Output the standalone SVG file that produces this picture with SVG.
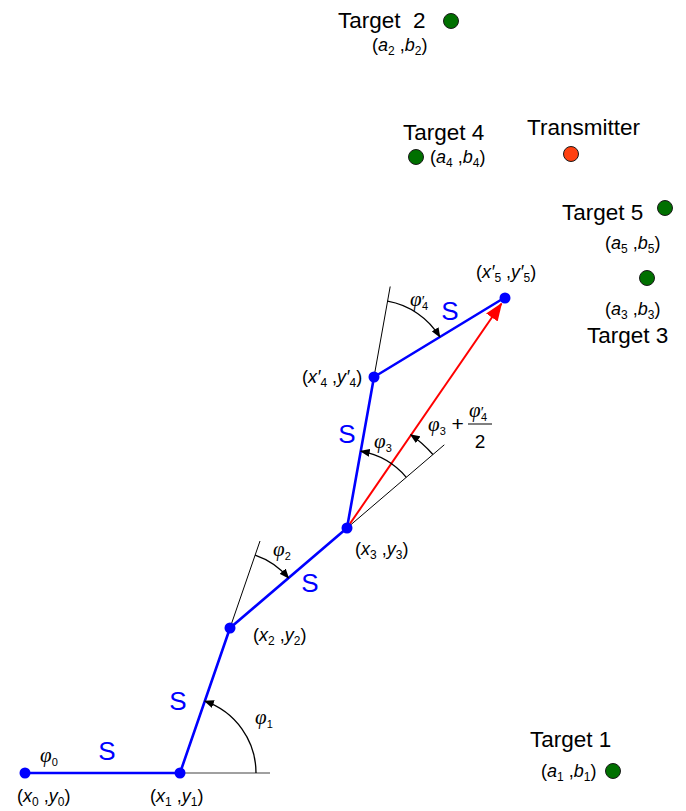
<svg xmlns="http://www.w3.org/2000/svg" width="686" height="811" viewBox="0 0 686 811">
<style>
.tg{font-family:"Liberation Sans",Arial,sans-serif;font-size:22.5px;fill:#000}
.lb{font-family:"Liberation Sans",Arial,sans-serif;font-size:18px;fill:#000}
.it{font-style:italic}
.sb{font-size:12px}
.ph{font-family:"Liberation Serif","DejaVu Serif",serif;font-style:italic;font-size:21px;fill:#000}
.ps{font-family:"Liberation Sans",Arial,sans-serif;font-style:normal;font-size:11px}
.S{font-family:"Liberation Sans",Arial,sans-serif;font-size:26px;fill:#0000ff;text-anchor:middle}
.seg{stroke:#0000ff;stroke-width:2.6;fill:none;stroke-linecap:round}
.thin{stroke:#000;stroke-width:1;fill:none}
.arc{stroke:#000;stroke-width:1.3;fill:none;marker-end:url(#ah)}
.bd{fill:#0000ff}
.gd{fill:#007000;stroke:#1a1a1a;stroke-width:1}
</style>
<defs>
<marker id="ah" markerWidth="10" markerHeight="8" refX="9" refY="4" orient="auto" markerUnits="userSpaceOnUse">
<path d="M0,0 L10,4 L0,8 Z" fill="#000"/>
</marker>
<marker id="rah" markerWidth="18" markerHeight="14" refX="17" refY="7" orient="auto" markerUnits="userSpaceOnUse">
<path d="M0,0 L18,7 L0,14 Z" fill="#ff0000"/>
</marker>
</defs>

<g id="connectors">
<line x1="180" y1="773" x2="270" y2="773" stroke="#808080" stroke-width="1.5"/>
<line class="thin" x1="230" y1="628" x2="260" y2="541"/>
<line class="thin" x1="347" y1="528" x2="444.3" y2="444.8"/>
<line class="thin" x1="374" y1="377" x2="390.2" y2="286.5"/>
<line class="seg" x1="25" y1="773" x2="180" y2="773"/>
<line class="seg" x1="180" y1="773" x2="230" y2="628"/>
<line class="seg" x1="230" y1="628" x2="347" y2="528"/>
<line class="seg" x1="347" y1="528" x2="374" y2="377"/>
<line class="seg" x1="374" y1="377" x2="504" y2="298"/>
<line x1="347" y1="528" x2="501.5" y2="303.5" stroke="#ff0000" stroke-width="2" marker-end="url(#rah)"/>
<path class="arc" d="M256,773 A76,76 0 0 0 204.8,701.2"/>
<path class="arc" d="M255.1,555.2 A77,77 0 0 1 288.5,578"/>
<path class="arc" d="M406.3,477.3 A78,78 0 0 0 360.7,451.2"/>
<path class="arc" d="M432.9,454.5 A113,113 0 0 0 410.7,434.7"/>
<path class="arc" d="M387.6,301.2 A77,77 0 0 1 439.8,337"/>
</g>

<g id="node-p0">
<circle class="bd" cx="25" cy="773" r="5.5"/>
<text class="lb" x="17" y="802">(<tspan class="it">x</tspan><tspan class="sb" dy="4">0</tspan><tspan dy="-4"> ,</tspan><tspan class="it">y</tspan><tspan class="sb" dy="4">0</tspan><tspan dy="-4">)</tspan></text>
<text class="ph" x="40" y="762">φ<tspan class="ps" dy="4">0</tspan></text>
</g>
<g id="node-p1">
<circle class="bd" cx="180" cy="773" r="5.5"/>
<text class="lb" x="150" y="802">(<tspan class="it">x</tspan><tspan class="sb" dy="4">1</tspan><tspan dy="-4"> ,</tspan><tspan class="it">y</tspan><tspan class="sb" dy="4">1</tspan><tspan dy="-4">)</tspan></text>
<text class="ph" x="255" y="724">φ<tspan class="ps" dy="4">1</tspan></text>
</g>
<g id="node-p2">
<circle class="bd" cx="230" cy="628" r="5.5"/>
<text class="lb" x="253" y="641">(<tspan class="it">x</tspan><tspan class="sb" dy="4">2</tspan><tspan dy="-4"> ,</tspan><tspan class="it">y</tspan><tspan class="sb" dy="4">2</tspan><tspan dy="-4">)</tspan></text>
<text class="ph" x="273" y="556">φ<tspan class="ps" dy="4">2</tspan></text>
</g>
<g id="node-p3">
<circle class="bd" cx="347" cy="528" r="5.5"/>
<text class="lb" x="355" y="555">(<tspan class="it">x</tspan><tspan class="sb" dy="4">3</tspan><tspan dy="-4"> ,</tspan><tspan class="it">y</tspan><tspan class="sb" dy="4">3</tspan><tspan dy="-4">)</tspan></text>
<text class="ph" x="374" y="448">φ<tspan class="ps" dy="4">3</tspan></text>
<text class="ph" x="428" y="431">φ<tspan class="ps" dy="4">3</tspan><tspan dy="-4" style="font-style:normal;font-family:'Liberation Sans',sans-serif"> +</tspan></text>
<text class="ph" x="469" y="417">φ<tspan style="font-style:normal;font-size:15px">′</tspan><tspan class="ps" dx="-3" dy="4">4</tspan></text>
<line x1="468" y1="424" x2="492" y2="424" stroke="#000" stroke-width="1"/>
<text class="lb" x="480" y="448" text-anchor="middle" style="font-size:19px">2</text>
</g>
<g id="node-p4">
<circle class="bd" cx="374" cy="377" r="5.5"/>
<text class="lb" x="302" y="383">(<tspan class="it">x′</tspan><tspan class="sb" dy="4">4</tspan><tspan dy="-4"> ,</tspan><tspan class="it">y′</tspan><tspan class="sb" dy="4">4</tspan><tspan dy="-4">)</tspan></text>
<text class="ph" x="410" y="306">φ<tspan style="font-style:normal;font-size:15px">′</tspan><tspan class="ps" dx="-3" dy="4">4</tspan></text>
</g>
<g id="node-p5">
<circle class="bd" cx="505" cy="298" r="5.5"/>
<text class="lb" x="476" y="278">(<tspan class="it">x′</tspan><tspan class="sb" dy="4">5</tspan><tspan dy="-4"> ,</tspan><tspan class="it">y′</tspan><tspan class="sb" dy="4">5</tspan><tspan dy="-4">)</tspan></text>
</g>

<g id="segment-labels">
<text class="S" x="107" y="760">S</text>
<text class="S" x="178" y="710">S</text>
<text class="S" x="310" y="592">S</text>
<text class="S" x="347" y="443">S</text>
<text class="S" x="450" y="320">S</text>
</g>

<g id="target-1">
<circle class="gd" cx="613" cy="771" r="7.5"/>
<text class="tg" x="530" y="747">Target 1</text>
<text class="lb" x="541" y="777">(<tspan class="it">a</tspan><tspan class="sb" dy="4">1</tspan><tspan dy="-4"> ,</tspan><tspan class="it">b</tspan><tspan class="sb" dy="4">1</tspan><tspan dy="-4">)</tspan></text>
</g>
<g id="target-2">
<circle class="gd" cx="451" cy="21" r="7.5"/>
<text class="tg" x="338" y="28" xml:space="preserve">Target  2</text>
<text class="lb" x="372" y="51">(<tspan class="it">a</tspan><tspan class="sb" dy="4">2</tspan><tspan dy="-4"> ,</tspan><tspan class="it">b</tspan><tspan class="sb" dy="4">2</tspan><tspan dy="-4">)</tspan></text>
</g>
<g id="target-3">
<circle class="gd" cx="647" cy="278" r="7.5"/>
<text class="lb" x="605" y="315">(<tspan class="it">a</tspan><tspan class="sb" dy="4">3</tspan><tspan dy="-4"> ,</tspan><tspan class="it">b</tspan><tspan class="sb" dy="4">3</tspan><tspan dy="-4">)</tspan></text>
<text class="tg" x="587" y="343">Target 3</text>
</g>
<g id="target-4">
<circle class="gd" cx="416" cy="157" r="7.5"/>
<text class="tg" x="403" y="140">Target 4</text>
<text class="lb" x="430" y="163">(<tspan class="it">a</tspan><tspan class="sb" dy="4">4</tspan><tspan dy="-4"> ,</tspan><tspan class="it">b</tspan><tspan class="sb" dy="4">4</tspan><tspan dy="-4">)</tspan></text>
</g>
<g id="target-5">
<circle class="gd" cx="665" cy="208" r="7.5"/>
<text class="tg" x="562" y="220">Target 5</text>
<text class="lb" x="605" y="249">(<tspan class="it">a</tspan><tspan class="sb" dy="4">5</tspan><tspan dy="-4"> ,</tspan><tspan class="it">b</tspan><tspan class="sb" dy="4">5</tspan><tspan dy="-4">)</tspan></text>
</g>
<g id="transmitter">
<circle cx="571" cy="154" r="7.5" fill="#ff4010" stroke="#1a1a1a" stroke-width="1"/>
<text class="tg" x="527" y="135">Transmitter</text>
</g>
</svg>
